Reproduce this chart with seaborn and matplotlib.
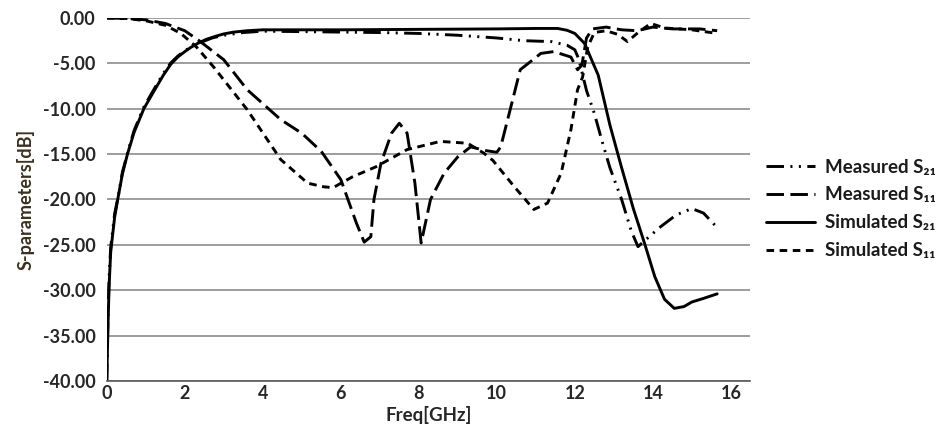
import matplotlib
matplotlib.use("Agg")
import matplotlib.pyplot as plt
import seaborn as sns
import pandas as pd
import numpy as np

# ---- data ----
sim_s21_f = [0.0, 0.03, 0.06, 0.1, 0.2, 0.28, 0.4, 0.53, 0.7, 0.95, 1.15, 1.3, 1.45, 1.64, 1.82, 2.0, 2.15, 2.33, 2.55, 2.8, 3.0, 3.26, 3.6, 4.0, 6.0, 8.0, 10.0, 11.0, 11.56, 11.8, 12.0, 12.25, 12.6, 12.9, 13.2, 13.5, 13.8, 14.05, 14.3, 14.55, 14.8, 15.0, 15.3, 15.65]
sim_s21_db = [-40.0, -34.0, -29.5, -25.8, -22.0, -20.0, -17.2, -15.0, -12.6, -10.0, -8.5, -7.4, -6.3, -5.1, -4.3, -3.7, -3.25, -2.8, -2.35, -2.0, -1.75, -1.55, -1.4, -1.3, -1.3, -1.25, -1.2, -1.15, -1.15, -1.35, -1.7, -2.8, -6.3, -11.8, -16.5, -21.0, -25.0, -28.5, -31.0, -32.0, -31.8, -31.3, -30.9, -30.4]

meas_s21_f = [0.0, 0.03, 0.06, 0.1, 0.2, 0.3, 0.4, 0.55, 0.7, 0.95, 1.15, 1.3, 1.45, 1.64, 1.82, 2.0, 2.2, 2.4, 2.7, 3.0, 3.5, 4.0, 5.0, 6.0, 7.0, 8.0, 9.0, 10.0, 10.7, 11.4, 11.8, 12.0, 12.1, 12.3, 12.5, 12.7, 12.9, 13.2, 13.45, 13.62, 13.8, 14.2, 14.6, 15.0, 15.3, 15.65]
meas_s21_db = [-40.0, -33.0, -28.5, -25.3, -21.6, -19.5, -17.0, -14.6, -12.4, -9.8, -8.3, -7.2, -6.1, -4.95, -4.2, -3.6, -3.1, -2.7, -2.2, -1.9, -1.6, -1.45, -1.5, -1.55, -1.6, -1.7, -1.9, -2.2, -2.5, -2.6, -3.0, -3.5, -4.5, -8.0, -10.5, -13.6, -16.5, -20.0, -23.5, -25.2, -24.5, -23.0, -21.7, -21.0, -21.5, -23.1]

meas_s11_f = [0.0, 0.5, 1.0, 1.5, 2.0, 2.4, 3.0, 3.6, 4.46, 5.0, 5.5, 6.0, 6.4, 6.6, 6.77, 6.85, 7.03, 7.3, 7.5, 7.7, 7.9, 8.06, 8.3, 8.65, 9.0, 9.33, 9.7, 10.0, 10.1, 10.36, 10.6, 11.13, 11.46, 11.9, 12.07, 12.18, 12.3, 12.45, 12.8, 13.2, 13.6, 14.0, 14.5, 15.2, 15.65]
meas_s11_db = [0.0, -0.05, -0.2, -0.6, -1.4, -2.6, -4.6, -7.9, -11.2, -12.7, -14.7, -17.8, -22.6, -24.7, -24.1, -20.0, -16.0, -12.7, -11.6, -12.7, -18.2, -24.8, -20.0, -17.1, -15.3, -14.2, -14.6, -14.8, -14.2, -9.8, -5.7, -3.9, -3.7, -4.3, -5.7, -5.2, -2.2, -1.2, -1.0, -1.3, -1.4, -1.0, -1.2, -1.2, -1.4]

sim_s11_f = [0.0, 0.5, 1.0, 1.5, 1.9, 2.3, 2.74, 3.6, 4.46, 5.15, 5.56, 5.8, 6.3, 6.9, 7.7, 8.55, 9.25, 9.67, 9.9, 10.45, 10.95, 11.3, 11.65, 11.9, 12.07, 12.2, 12.33, 12.5, 12.8, 13.1, 13.35, 13.65, 13.95, 14.3, 15.0, 15.65]
sim_s11_db = [0.0, -0.05, -0.3, -0.8, -1.7, -3.2, -5.4, -10.1, -15.6, -18.2, -18.6, -18.7, -17.5, -16.4, -14.5, -13.6, -13.8, -14.9, -15.7, -18.6, -21.1, -20.4, -17.1, -12.3, -7.9, -6.5, -3.2, -1.6, -1.4, -1.8, -2.6, -1.5, -0.6, -1.1, -1.3, -1.7]

series_names = ["Measured S\u2082\u2081", "Measured S\u2081\u2081", "Simulated S\u2082\u2081", "Simulated S\u2081\u2081"]
x_ticks = [0, 2, 4, 6, 8, 10, 12, 14, 16]
y_ticks = [0, -5, -10, -15, -20, -25, -30, -35, -40]

frames = []
for name, f, db in [(series_names[0], meas_s21_f, meas_s21_db),
                    (series_names[1], meas_s11_f, meas_s11_db),
                    (series_names[2], sim_s21_f, sim_s21_db),
                    (series_names[3], sim_s11_f, sim_s11_db)]:
    frames.append(pd.DataFrame({"Freq": f, "dB": db, "series": name}))
df = pd.concat(frames, ignore_index=True)

sns.set_theme(style="white")
plt.rcParams['font.family'] = ['Lato', 'DejaVu Sans']
plt.rcParams['font.weight'] = 'bold'

fig = plt.figure(figsize=(9.45, 4.29), dpi=100)
ax = fig.add_axes([0.113, 0.112, 0.681, 0.846])

dashes = {
    series_names[0]: (6, 2.2, 0.7, 2.2, 0.7, 2.2),
    series_names[1]: (6, 2.2),
    series_names[2]: "",
    series_names[3]: (2.6, 1.9),
}
palette = {n: "black" for n in series_names}
sns.lineplot(data=df, x="Freq", y="dB", hue="series", style="series",
             hue_order=series_names, style_order=series_names,
             palette=palette, dashes=dashes, linewidth=2.1, ax=ax,
             sort=False, estimator=None, legend=True)

ax.set_xlim(0, 16.5)
ax.set_ylim(-40, 0)
ax.set_xticks(x_ticks)
ax.set_yticks(y_ticks)
ax.set_xticklabels([str(t) for t in x_ticks], fontsize=13, fontweight='bold', color='#262626')
ax.set_yticklabels([f"{t:.2f}" for t in y_ticks], fontsize=13, fontweight='bold', color='#262626')
ax.tick_params(axis='x', length=0, pad=3)
ax.tick_params(axis='y', length=0, pad=8)
ax.yaxis.grid(True, color='#8c8c8c', linewidth=1.2)
ax.xaxis.grid(False)
ax.set_axisbelow(True)
for s in ['left', 'right', 'top']:
    ax.spines[s].set_visible(False)
ax.spines['bottom'].set_color('#595959')
ax.spines['bottom'].set_linewidth(1.2)

ax.set_xlabel("Freq[GHz]", fontsize=13.5, fontweight='bold', color='#262626', labelpad=3)
ax.set_ylabel("S-parameters[dB]", fontsize=13, fontweight='bold', color='#3b3020', labelpad=6)

handles, labels = ax.get_legend_handles_labels()
leg = ax.legend(handles, labels, loc='center left', bbox_to_anchor=(0.998, 0.474),
                frameon=False, fontsize=13.5, handlelength=2.6, handletextpad=0.55,
                labelspacing=0.58)
for t in leg.get_texts():
    t.set_fontweight('bold')
    t.set_color('#1a1a1a')

fig.savefig("out.png", dpi=100)
